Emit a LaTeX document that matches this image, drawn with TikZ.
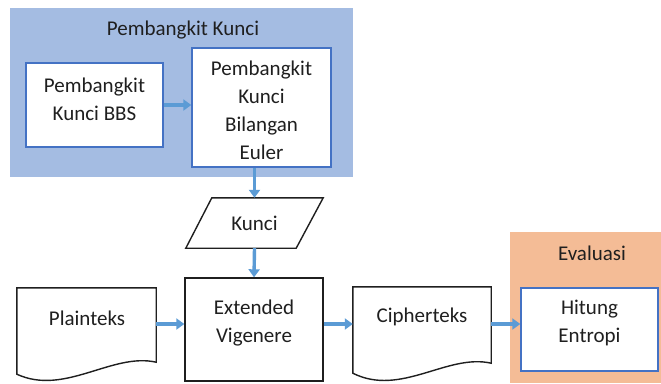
\documentclass[tikz,border=0pt]{standalone}
\usepackage{fontspec}
\setmainfont{Carlito}
\usetikzlibrary{calc,arrows.meta}
\definecolor{grpblue}{RGB}{164,188,226}
\definecolor{grporange}{RGB}{244,188,150}
\definecolor{arrowblue}{RGB}{91,155,213}
\definecolor{boxblue}{RGB}{68,114,196}
\tikzset{
  every node/.style={font=\fontsize{21}{28}\selectfont, text=black!88, align=center, inner sep=0pt},
  innerbox/.style={draw=boxblue, line width=1.4pt, fill=white},
  plainbox/.style={draw=black!88, line width=1.4pt, fill=white},
  flow/.style={draw=arrowblue, line width=3.4pt, -{Triangle[length=8pt,width=11pt]}},
  grouptitle/.style={font=\fontsize{21}{24}\selectfont}
}
\begin{document}
\begin{tikzpicture}[x=1pt,y=-1pt]
\useasboundingbox (0,0) rectangle (661,383);
% groups
\fill[grpblue] (10,8) rectangle (353,177);
\fill[grporange] (510,232) rectangle (661,383);
\node[grouptitle] (t1) at (183,30) {Pembangkit Kunci};
\node[grouptitle] (t2) at (592,253) {Evaluasi};
% inner boxes
\node[innerbox, minimum width=137pt, minimum height=84pt] (bbs) at (94.5,105) {};
\node (bbstxt) at (94.5,99) {Pembangkit\\Kunci BBS};
\node[innerbox, minimum width=139pt, minimum height=119pt] (euler) at (261.5,107.5) {};
\node (eulertxt) at (261.5,110) {Pembangkit\\Kunci\\Bilangan\\Euler};
\node[innerbox, minimum width=137pt, minimum height=83pt] (hitung) at (589.5,329.5) {};
\node (hitungtxt) at (589.5,323) {Hitung\\Entropi};
% kunci parallelogram
\node[minimum width=137pt, minimum height=50pt] (kunci) at (254.5,223) {};
\draw[plainbox] ($(kunci.north west)+(26,0)$) -- (kunci.north east) -- ($(kunci.south east)-(27,0)$) -- (kunci.south west) -- cycle;
\node at (kunci.center) {Kunci};
% vigenere
\node[plainbox, minimum width=138pt, minimum height=103pt] (vig) at (254,329.5) {};
\node (vigtxt) at (254,323) {Extended\\Vigenere};
% documents
\node[minimum width=139pt, minimum height=72pt] (plain) at (86.5,324) {};
\draw[plainbox] (plain.north west) -- (plain.north east) -- ($(plain.south east)+(0,2)$)
  .. controls ($(plain.south east)+(-44,-8)$) and ($(plain.south west)+(48,36)$) .. ($(plain.south west)+(0,14)$) -- cycle;
\node at (87,318) {Plainteks};
\node[minimum width=138pt, minimum height=74pt] (cipher) at (422,324) {};
\draw[plainbox] (cipher.north west) -- (cipher.north east) -- ($(cipher.south east)+(0,2)$)
  .. controls ($(cipher.south east)+(-44,-8)$) and ($(cipher.south west)+(48,36)$) .. ($(cipher.south west)+(0,12)$) -- cycle;
\node at (422,317) {Cipherteks};
% arrows
\draw[flow] (bbs.east) -- (bbs.east -| euler.west);
\draw[flow] (euler.south -| kunci.center) -- (kunci.north);
\draw[flow] (kunci.south) -- (vig.north);
\draw[flow] (plain.east) -- (plain.east -| vig.west);
\draw[flow] (cipher.west -| vig.east) -- (cipher.west);
\draw[flow] (cipher.east) -- (cipher.east -| hitung.west);
\end{tikzpicture}
\end{document}
